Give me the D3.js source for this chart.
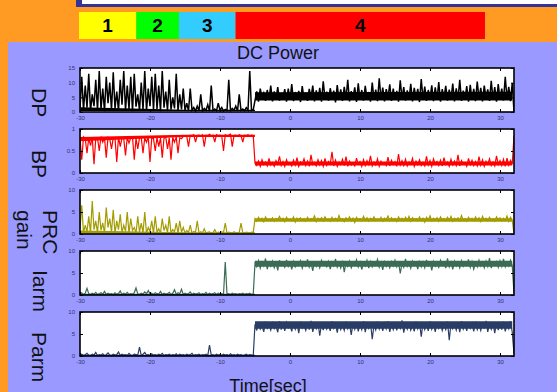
<!DOCTYPE html>
<html>
<head>
<meta charset="utf-8">
<script src="https://cdn.jsdelivr.net/npm/d3@7"></script>
<style>
  html, body { margin: 0; padding: 0; background: #ff9a22; }
  svg { display: block; }
</style>
</head>
<body>
<svg id="chart" width="557" height="392"></svg>
<script>
// phase bar on top
const phaseNames = ['1', '2', '3', '4'];
const phaseStart = [-26.1, -17.9, -11.8, -3.7];
const phaseEnd = [-17.9, -11.8, -3.7, 32];   // in the same time units as the panels
const phaseColors = ['#ffff00', '#00ff00', '#33ccff', '#ff0000'];

const panelNames = ['DP', 'BP', 'PRC', 'Iarm', 'Parm'];
const panelMax = [15, 1, 10, 10, 10];
const panelTicks = [[0, 5, 10, 15], [0, 0.5, 1], [0, 5, 10], [0, 5, 10], [0, 5, 10]];
const panelColors = ['#000000', '#ff0000', '#a39c00', '#3b6c55', '#2a3d66'];
const lineWidths = [1.5, 1.2, 1.2, 1.2, 1.2];
const xTicks = [-30, -20, -10, 0, 10, 20, 30];
const timeStart = -30, timeEnd = 32;

// samples every 0.25 s from -30 to 32
const dpValues = [
  1, 12, 0.5, 9, 1.5, 13, 0.4, 6, 2, 11,
  0.5, 14, 1, 8, 0.3, 12, 3, 10, 0.6, 13.5,
  1.2, 7, 0.4, 11, 2.5, 14, 0.5, 9, 1, 12,
  0.3, 13, 1.8, 6, 0.5, 10, 0.8, 14, 0.4, 8,
  2, 12, 0.6, 13, 1, 9, 0.3, 14, 1.5, 7,
  0.5, 11, 0.8, 5, 1.2, 13, 0.4, 6, 0.9, 8,
  0.5, 3, 0.4, 8, 0.6, 1.5, 0.3, 2, 0.5, 6,
  0.4, 1.2, 0.6, 2.5, 0.3, 9, 0.5, 1, 0.4, 3,
  0.6, 1.5, 0.3, 0.9, 0.5, 11, 0.4, 1.2, 0.6, 2,
  0.3, 6, 0.5, 1, 0.4, 1.5, 0.6, 14, 0.5, 0.8,
  4, 7, 3.5, 8, 5, 6.5, 3.8, 7.5, 4.2, 9,
  3.6, 7, 4.5, 8.5, 3.9, 6, 4.8, 7.8, 3.5, 8,
  4.1, 9.5, 3.7, 6.8, 4.6, 7.2, 3.4, 8.8, 4.3, 6.5,
  3.8, 7.9, 4.9, 9, 3.6, 7.4, 4.2, 8.2, 3.5, 10.5,
  4.4, 6.9, 3.9, 8.1, 4.7, 7.3, 3.3, 9.2, 4.1, 7.7,
  3.8, 8.6, 4.5, 11, 3.6, 7.1, 4.8, 8.4, 3.4, 9.8,
  4.2, 7.5, 3.9, 8.9, 4.6, 6.8, 3.5, 10, 4.3, 7.6,
  3.7, 11.5, 4.4, 8.3, 3.6, 7.8, 4.9, 9.4, 3.8, 8,
  4.1, 7.2, 3.5, 10.8, 4.6, 8.5, 3.9, 7.4, 4.2, 9.6,
  3.6, 8.2, 4.7, 7.9, 3.4, 11.2, 4.3, 8.7, 3.8, 7.5,
  4.5, 9.1, 3.7, 8.4, 4.1, 10.2, 3.5, 7.8, 4.8, 8.9,
  3.9, 7.6, 4.4, 9.7, 3.6, 8.1, 4.2, 11, 3.8, 7.3,
  4.6, 8.8, 3.5, 9.3, 4.1, 7.9, 3.7, 10.4, 4.4, 8.2,
  3.6, 9, 4.9, 7.7, 3.8, 10.6, 4.2, 8.5, 3.5, 9.5,
  4.3, 8, 3.9, 12, 4.5, 8.6, 3.7, 9.9, 0
];

const bpValues = [
  .8, .3, .82, .78, .45, .8, .62, .81, .2, .79,
  .8, .5, .83, .7, .8, .35, .81, .77, .55, .8,
  .79, .25, .82, .6, .8, .78, .4, .81, .68, .8,
  .82, .3, .79, .55, .8, .81, .45, .8, .7, .82,
  .25, .8, .78, .5, .81, .6, .8, .35, .79, .82,
  .55, .8, .3, .81, .7, .82, .45, .8, .78, .83,
  .85, .84, .6, .86, .85, .87, .7, .85, .86, .84,
  .87, .6, .86, .85, .88, .84, .86, .7, .87, .85,
  .86, .84, .5, .87, .85, .86, .88, .6, .85, .86,
  .84, .87, .85, .7, .86, .85, .87, .84, .86, .85,
  .22, .17, .27, .15, .3, .19, .25, .16, .33, .18,
  .24, .15, .28, .2, .38, .17, .26, .15, .3, .19,
  .23, .16, .29, .18, .35, .15, .25, .2, .32, .17,
  .27, .15, .41, .19, .24, .16, .3, .18, .28, .15,
  .33, .17, .26, .2, .48, .16, .29, .15, .25, .19,
  .31, .17, .37, .15, .27, .18, .23, .16, .34, .2,
  .26, .15, .3, .17, .28, .19, .39, .16, .25, .18,
  .32, .15, .27, .2, .24, .17, .36, .16, .29, .19,
  .26, .15, .43, .18, .28, .17, .31, .16, .25, .2,
  .33, .15, .27, .19, .3, .17, .24, .16, .38, .18,
  .28, .15, .32, .2, .26, .17, .29, .16, .35, .19,
  .25, .15, .31, .18, .27, .17, .41, .16, .28, .2,
  .24, .15, .33, .19, .29, .17, .26, .16, .37, .18,
  .3, .15, .27, .2, .32, .17, .25, .16, .39, .19,
  .28, .17, .31, .15, .34, .18, .29, .2, .85
];

const prcValues = [
  1, 6.5, 0.3, 2, 0.5, 4, 0.2, 7.5, 1, 3,
  0.3, 5, 0.8, 2.5, 0.2, 6, 1.5, 3.5, 0.4, 5.5,
  0.2, 3, 1, 4.5, 0.3, 2, 0.6, 5, 0.2, 3.5,
  0.8, 1.5, 0.2, 4, 0.5, 2.5, 0.3, 5, 0.2, 1.5,
  0.6, 3, 0.2, 4, 0.4, 1.2, 0.2, 3.5, 0.8, 2,
  0.3, 4, 0.2, 1, 0.5, 2.5, 0.2, 3, 0.4, 1.5,
  0.2, 0.8, 0.3, 2, 0.2, 0.6, 0.4, 3, 0.2, 0.5,
  0.3, 1.2, 0.2, 0.4, 0.5, 0.2, 0.3, 1, 0.2, 0.4,
  0.2, 0.5, 0.3, 2.5, 0.2, 0.4, 0.3, 0.2, 0.5, 0.3,
  0.2, 0.4, 2.5, 0.3, 0.2, 0.4, 0.3, 0.2, 0.4, 0.3,
  3.5, 2.9, 3.8, 3.1, 3.6, 2.8, 3.9, 3.2, 3.4, 3,
  3.7, 2.9, 3.5, 3.3, 4, 3.1, 3.6, 2.8, 3.8, 3.2,
  3.4, 3, 3.9, 2.7, 3.6, 3.2, 3.7, 3, 3.5, 2.9,
  3.8, 3.1, 3.5, 3.3, 4.1, 2.8, 3.6, 3.1, 3.7, 3,
  3.9, 3.2, 3.4, 2.9, 3.8, 3.1, 3.6, 3, 4.2, 3.2,
  3.5, 2.8, 3.7, 3.1, 3.9, 3, 3.6, 2.6, 3.8, 3.2,
  3.5, 3, 4, 3.1, 3.7, 2.9, 3.6, 3.2, 3.9, 3,
  3.4, 3.1, 3.8, 2.9, 3.6, 3.3, 4.1, 3, 3.7, 3.1,
  3.5, 2.8, 3.9, 3.2, 3.6, 3, 3.8, 3.1, 4, 2.9,
  3.7, 3.2, 3.5, 3, 3.9, 3.1, 3.6, 2.7, 3.8, 3.2,
  4.1, 3, 3.6, 3.1, 3.7, 2.9, 3.9, 3.2, 3.5, 3,
  3.8, 3.1, 4, 2.9, 3.6, 3.2, 3.7, 3, 4.2, 3.1,
  3.5, 2.9, 3.8, 3.2, 3.6, 3, 3.9, 3.1, 3.7, 2.8,
  4, 3.2, 3.6, 3, 3.8, 3.1, 3.5, 2.9, 3.9, 3.2,
  3.7, 3, 3.6, 3.1, 4.1, 2.9, 3.8, 3.2, 0
];

const iarmValues = [
  .2, .5, .1, .4, 1.5, .3, .1, .4, .2, .6,
  .1, .3, .5, .2, .8, .1, .4, .2, .3, .1,
  .5, .2, .3, .9, .1, .4, .2, .6, .1, .3,
  .2, .5, 1.6, .3, .1, .4, .2, .7, .3, 1,
  .2, .4, .1, .5, .3, .2, .8, .1, .4, .2,
  .3, .6, .1, .4, 1.2, .2, .5, .3, 1.3, .1,
  .4, .2, .3, .7, .1, .4, .2, .3, .5, .1,
  .3, .2, .6, .1, .4, .2, .3, .5, .1, .4,
  .2, .3, .1, 7.5, .2, .3, .1, .4, .2, .3,
  .1, .3, .2, .4, .1, .3, .2, .4, .1, .2,
  7.2, 6.4, 7.8, 6.1, 7.5, 6.6, 8.3, 5.9, 7.4, 6.5,
  7.7, 6.2, 7.3, 5.6, 7.9, 6.7, 7.1, 6.3, 8, 6.5,
  7.4, 5.8, 7.6, 6.4, 7.2, 6.9, 7.8, 6.1, 7.5, 6.6,
  8.1, 6.3, 7.3, 5.5, 7.7, 6.5, 7.4, 6.2, 7.9, 6.8,
  7.1, 6.4, 7.6, 5.9, 7.5, 6.6, 8.2, 6.3, 7.3, 6.1,
  7.8, 5.2, 7.4, 6.5, 7.7, 6.2, 7.2, 6.7, 8, 6.4,
  7.5, 5.8, 7.3, 6.6, 7.9, 6.1, 7.6, 6.4, 7.2, 6.8,
  8.1, 6.3, 7.4, 5.7, 7.8, 6.5, 7.3, 6.2, 7.6, 6.6,
  7.9, 6.4, 7.5, 4.9, 7.2, 6.3, 8.2, 6.5, 7.4, 6.1,
  7.7, 6.7, 7.3, 5.9, 7.8, 6.4, 7.5, 6.2, 8, 6.6,
  7.4, 5.6, 7.6, 6.5, 7.2, 6.3, 7.9, 6.8, 7.3, 6.1,
  8.3, 6.4, 7.5, 5.8, 7.7, 6.6, 7.4, 6.2, 7.8, 6.5,
  7.2, 6.7, 8.1, 6.3, 7.6, 5.9, 7.3, 6.4, 7.9, 6.6,
  7.5, 6.2, 7.7, 6.5, 8.4, 6.1, 7.4, 6.8, 7.6, 6.3,
  7.8, 6.5, 8.2, 6.4, 7.5, 6.6, 7.9, 6.7, 0.3
];

const parmValues = [
  .2, .4, .1, .3, .6, .2, .1, .4, .2, .8,
  .1, .3, .2, .5, .1, .3, .7, .2, .1, .4,
  .2, .3, .9, .1, .4, .2, .3, .1, .6, .2,
  .1, .4, .3, .2, 2, .1, .4, .8, .2, .3,
  .1, .5, .2, .3, .1, .4, .2, .6, .1, .3,
  .2, .4, .1, .3, .2, .5, .1, .4, .2, .3,
  .1, .4, .2, .3, .6, .1, .3, .2, .4, .1,
  .3, .2, .4, .1, 2.5, .2, .3, .1, .4, .2,
  .3, .1, .4, .2, .3, .1, .5, .2, .3, .1,
  .4, .2, .3, .1, .2, .4, .1, .3, .2, .1,
  7.2, 5.8, 7.6, 6.1, 6.9, 5.5, 7.8, 6.3, 7.1, 5.9,
  7.5, 6.2, 6.8, 5.4, 7.9, 6, 7.3, 5.7, 7.6, 6.4,
  7, 5.6, 7.7, 6.1, 7.4, 5.2, 7.8, 6.3, 6.9, 5.8,
  7.5, 6, 8, 5.5, 7.2, 6.2, 7.6, 4.6, 7.3, 5.9,
  7.7, 6.1, 7.1, 5.7, 7.9, 6.3, 7.4, 5.3, 7.6, 6,
  7, 5.8, 7.8, 6.2, 7.3, 4.8, 7.5, 6.1, 7.7, 5.6,
  7.2, 6, 7.9, 5.4, 7.4, 6.3, 7.6, 3.8, 7.1, 5.9,
  7.8, 6.1, 7.3, 5.7, 7.5, 6.2, 7.9, 5.5, 7.2, 6,
  7.6, 5.8, 7.4, 6.3, 8.1, 5.3, 7.3, 6.1, 7.7, 5.9,
  7, 5.6, 7.8, 6.2, 7.5, 4.4, 7.6, 6, 7.2, 5.7,
  7.9, 6.1, 7.3, 5.5, 7.7, 6.3, 7.4, 5.8, 7.1, 6,
  7.8, 3.6, 7.5, 6.2, 7.3, 5.9, 7.6, 5.4, 7.9, 6.1,
  7.2, 5.7, 7.7, 6.3, 7.4, 5.6, 7.8, 6, 7.1, 5.8,
  7.6, 6.2, 8, 5.5, 7.3, 6.1, 7.5, 5.2, 7.7, 5.9,
  7.4, 6, 7.8, 5.6, 7.2, 6.2, 7.9, 5.4, 0.5
];

// solid core of each noisy trace (where the original is too dense to see single samples)
const coreTimes = [-30, -15, -5.01, -5.0, 31.75];
const dpCoreLow = [0.3, 0.3, 0.3, 3.9, 3.9];
const dpCoreHigh = [1.6, 0.8, 0.8, 6.7, 6.9];
const bpCoreLow = [0.72, 0.82, 0.82, 0.17, 0.17];
const bpCoreHigh = [0.82, 0.87, 0.87, 0.26, 0.26];
const prcCoreLow = [0.1, 0.1, 0.1, 2.8, 2.8];
const prcCoreHigh = [0.8, 0.4, 0.4, 3.6, 3.6];
const iarmCoreLow = [0, 0, 0, 6.4, 6.4];
const iarmCoreHigh = [0.3, 0.3, 0.3, 7.8, 7.8];
const parmCoreLow = [0, 0, 0, 6.2, 6.2];
const parmCoreHigh = [0.3, 0.3, 0.3, 7.9, 7.9];

const allSeries = [dpValues, bpValues, prcValues, iarmValues, parmValues];
const allCoreLow = [dpCoreLow, bpCoreLow, prcCoreLow, iarmCoreLow, parmCoreLow];
const allCoreHigh = [dpCoreHigh, bpCoreHigh, prcCoreHigh, iarmCoreHigh, parmCoreHigh];

const svg = d3.select('#chart');
const font = 'Liberation Sans, Arial, sans-serif';

// header strip
svg.append('rect').attr('x', 76).attr('y', -10).attr('width', 500).attr('height', 17).attr('fill', '#333399');
svg.append('rect').attr('x', 82).attr('y', -10).attr('width', 500).attr('height', 14).attr('fill', '#ffffff');

// the phase bar uses its own scale: left at 79px, right at 485px
const phaseX = d3.scaleLinear().domain([-26.1, 32]).range([79, 485]);
const phases = svg.append('g');
phaseNames.forEach((name, i) => {
  phases.append('rect')
    .attr('x', phaseX(phaseStart[i]))
    .attr('y', 12)
    .attr('width', phaseX(phaseEnd[i]) - phaseX(phaseStart[i]))
    .attr('height', 27)
    .attr('fill', phaseColors[i]);
  phases.append('text')
    .attr('x', (phaseX(phaseStart[i]) + phaseX(phaseEnd[i])) / 2)
    .attr('y', 32)
    .attr('text-anchor', 'middle')
    .style('font-family', font)
    .style('font-weight', 'bold')
    .style('font-size', '19px')
    .text(name);
});

// lilac panel
svg.append('rect').attr('x', 8).attr('y', 42).attr('width', 560).attr('height', 360).attr('fill', '#9999ff');

svg.append('text')
  .attr('x', 278).attr('y', 59)
  .attr('text-anchor', 'middle')
  .style('font-family', font).style('font-size', '18px')
  .attr('fill', '#111')
  .text('DC Power');

// bottom label is cut by the page edge in the original too
svg.append('text')
  .attr('x', 268).attr('y', 392)
  .attr('text-anchor', 'middle')
  .style('font-family', font).style('font-size', '18px')
  .attr('fill', '#111')
  .text('Time[sec]');

const left = 80, right = 514, panelH = 44;
const panelTop = [68, 129, 190, 251, 312];
const x = d3.scaleLinear().domain([timeStart, timeEnd]).range([left, right]);

// y labels (rotated, reading downwards)
const yLabels = [
  { lines: ['DP'], x: [32], y: 88 },
  { lines: ['BP'], x: [32], y: 150 },
  { lines: ['PRC', 'gain'], x: [43, 17], y: 210 },
  { lines: ['Iarm'], x: [33], y: 270 },
  { lines: ['Parm'], x: [32], y: 332 }
];
yLabels.forEach(lab => {
  lab.lines.forEach((t, j) => {
    svg.append('text')
      .attr('transform', 'translate(' + lab.x[j] + ',' + lab.y + ') rotate(90)')
      .style('font-family', font).style('font-size', '21px')
      .attr('fill', '#111')
      .text(t);
  });
});

const xFmt = d => String(d);
const yFmt = d3.format('~g');

panelNames.forEach((name, p) => {
  const top = panelTop[p], bottom = top + panelH;
  const y = d3.scaleLinear().domain([0, panelMax[p]]).range([bottom, top]);
  const vals = allSeries[p];
  const step = (timeEnd - timeStart) / (vals.length - 1);
  const g = svg.append('g');

  g.append('rect')
    .attr('x', left).attr('y', top)
    .attr('width', right - left).attr('height', panelH)
    .attr('fill', '#ffffff');

  g.append('clipPath').attr('id', 'clip' + p)
    .append('rect').attr('x', left).attr('y', top - 1).attr('width', right - left).attr('height', panelH + 2);

  const plot = g.append('g').attr('clip-path', 'url(#clip' + p + ')');

  const core = d3.area()
    .x((d, i) => x(coreTimes[i]))
    .y0((d, i) => y(allCoreLow[p][i]))
    .y1((d, i) => y(allCoreHigh[p][i]));

  plot.append('path')
    .datum(coreTimes)
    .attr('fill', panelColors[p])
    .attr('d', core);

  const line = d3.line()
    .x((d, i) => x(timeStart + i * step))
    .y(d => y(d));

  plot.append('path')
    .datum(vals)
    .attr('fill', 'none')
    .attr('stroke', panelColors[p])
    .attr('stroke-width', lineWidths[p])
    .attr('d', line);

  // ticks inside the frame on all four sides
  g.append('g').attr('transform', 'translate(0,' + bottom + ')')
    .call(d3.axisBottom(x).tickValues(xTicks).tickFormat(xFmt).tickSizeInner(-3).tickSizeOuter(0).tickPadding(4))
    .call(a => a.select('.domain').remove());
  g.append('g').attr('transform', 'translate(0,' + top + ')')
    .call(d3.axisTop(x).tickValues(xTicks).tickSizeInner(-3).tickSizeOuter(0).tickFormat(''))
    .call(a => a.select('.domain').remove());
  g.append('g').attr('transform', 'translate(' + left + ',0)')
    .call(d3.axisLeft(y).tickValues(panelTicks[p]).tickFormat(yFmt).tickSizeInner(-3).tickSizeOuter(0).tickPadding(5))
    .call(a => a.select('.domain').remove());
  g.append('g').attr('transform', 'translate(' + right + ',0)')
    .call(d3.axisRight(y).tickValues(panelTicks[p]).tickSizeInner(-3).tickSizeOuter(0).tickFormat(''))
    .call(a => a.select('.domain').remove());

  g.selectAll('.tick text')
    .style('font-family', font).style('font-size', '6px')
    .attr('fill', '#333366');
  g.selectAll('.tick line').attr('stroke', '#000').attr('stroke-width', 1);

  g.append('rect')
    .attr('x', left).attr('y', top)
    .attr('width', right - left).attr('height', panelH)
    .attr('fill', 'none')
    .attr('stroke', '#000')
    .attr('stroke-width', 1.6);
});
</script>
</body>
</html>
